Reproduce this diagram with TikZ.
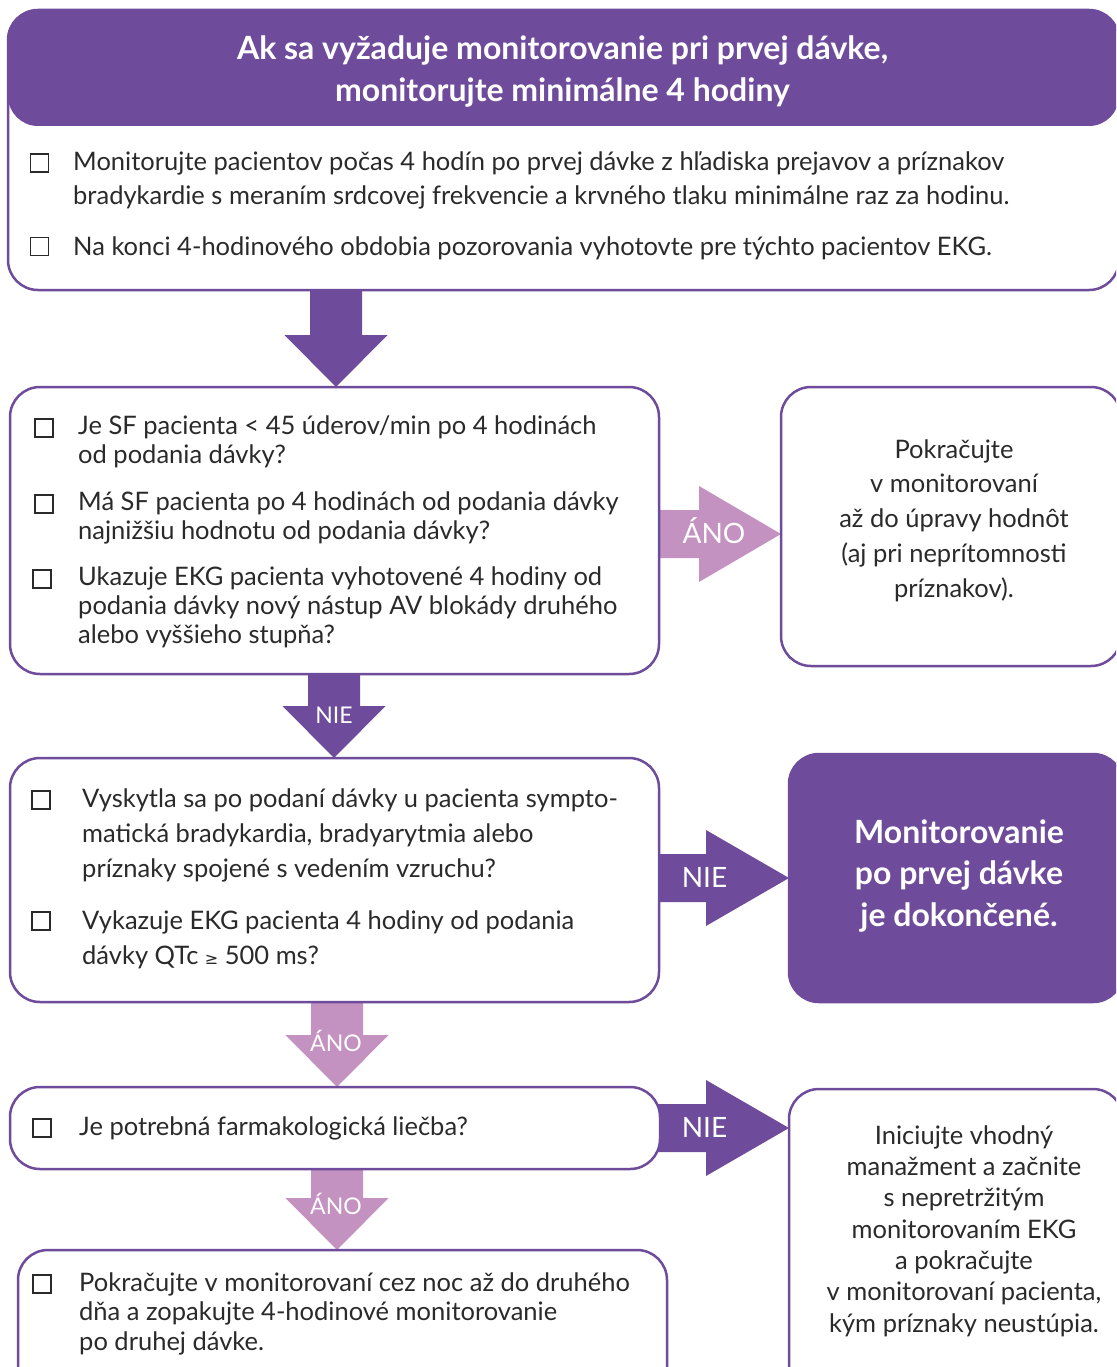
\documentclass[tikz,border=0pt]{standalone}
\usepackage{fontspec}
\setmainfont{Lato}
\newfontfamily\symfont{DejaVu Sans}
\usetikzlibrary{calc,backgrounds}
\definecolor{purp}{HTML}{6E4C9B}
\definecolor{pinkc}{HTML}{C492C1}
\definecolor{ink}{HTML}{2A2A2A}
\newcommand{\mystr}{\rule{0pt}{1em}}
% block arrow pointing down: colour, x coordinate, from node, to node
\newcommand{\blkdown}[4]{%
  \fill[#1] let \p1=(#3.south -| #2), \p2=(#4.north -| #2) in
   (\x1-26pt,\y1+8pt) -- (\x1+26pt,\y1+8pt) -- (\x1+26pt,\y2+52pt) -- (\x1+51.5pt,\y2+52pt)
   -- (\x1,\y2) -- (\x1-51.5pt,\y2+52pt) -- (\x1-26pt,\y2+52pt) -- cycle;}
% block arrow pointing right: colour, y coordinate, from node, to node, head length
\newcommand{\blkright}[5]{%
  \fill[#1] let \p1=(#3.east |- #2), \p2=(#4.west |- #2) in
   (\x1-15pt,\y1+24pt) -- (\x2-#5,\y1+24pt) -- (\x2-#5,\y1+48pt) -- (\x2,\y1)
   -- (\x2-#5,\y1-48pt) -- (\x2-#5,\y1-24pt) -- (\x1-15pt,\y1-24pt) -- cycle;}
\tikzset{
  box/.style={draw=purp, line width=2.5pt, rounded corners=30pt, fill=white, inner sep=0pt, outer sep=0pt},
  chk/.style={draw=ink, line width=1.4pt, minimum size=18pt, inner sep=0pt, outer sep=0pt},
  body/.style={anchor=north west, align=left, inner sep=0pt, text=ink, font=\fontsize{25.5}{35}\selectfont},
  ctext/.style={anchor=north, align=center, inner sep=0pt, text=ink, font=\fontsize{25.5}{35}\selectfont},
  hdr/.style={anchor=north, align=center, inner sep=0pt, text=white, font=\fontsize{32}{42}\selectfont\bfseries},
  lblbig/.style={anchor=base, inner sep=0pt, text=white, font=\fontsize{28}{30}\selectfont},
  lblsmall/.style={anchor=base, inner sep=0pt, text=white, font=\fontsize{23}{25}\selectfont},
}
\begin{document}
\begin{tikzpicture}[x=1pt,y=-1pt]
\clip (0,0) rectangle (1116,1367);

% ---------- boxes ----------
\node[box, minimum width=1111pt, minimum height=280pt,
  path picture={\fill[purp] (path picture bounding box.north west) rectangle ([yshift=-116pt]path picture bounding box.north east);}]
  (b1) at (563.5,150) {};
\node[box, minimum width=649pt, minimum height=287pt] (b2) at (334.5,530.5) {};
\node[box, minimum width=340pt, minimum height=279pt] (r1) at (951,526.5) {};
\node[box, minimum width=649pt, minimum height=244pt] (b3) at (334.5,880) {};
\node[box, fill=purp, minimum width=334pt, minimum height=248pt] (r2) at (956,878) {};
\node[box, minimum width=650pt, minimum height=82pt] (b4) at (335,1128) {};
\node[box, minimum width=334pt, minimum height=311pt] (r3) at (956,1244.5) {};
\node[box, minimum width=649pt, minimum height=150pt] (b6) at (342.5,1325) {};

% ---------- block arrows (behind the boxes) ----------
\coordinate (xa) at (336,0);
\coordinate (xb) at (334,0);
\coordinate (xc) at (337,0);
\coordinate (ya) at (0,534);
\coordinate (yb) at (0,878);
\coordinate (yc) at (0,1128);
\begin{pgfonlayer}{background}
\fill[white] (0,0) rectangle (1116,1367);
\blkdown{purp}{xa}{b1}{b2}
\blkright{pinkc}{ya}{b2}{r1}{82pt}
\blkdown{purp}{xb}{b2}{b3}
\blkright{purp}{yb}{b3}{r2}{83pt}
\blkdown{pinkc}{xc}{b3}{b4}
\blkright{purp}{yc}{b4}{r3}{83pt}
\blkdown{pinkc}{xc}{b4}{b6}
\end{pgfonlayer}

% ---------- arrow labels ----------
\node[lblbig] (la) at (714,543) {ÁNO};
\node[lblsmall] (lb) at (334,723) {NIE};
\node[lblbig] (lc) at (704.5,887) {NIE};
\node[lblsmall] (ld) at (336,1051) {ÁNO};
\node[lblbig] (le) at (704.5,1137) {NIE};
\node[lblsmall] (lf) at (336,1214) {ÁNO};

% ---------- header ----------
\node[hdr] (ht) at (562.5,27) {\mystr Ak sa vyžaduje monitorovanie pri prvej dávke,\\monitorujte minimálne 4 hodiny};

% ---------- box 1 ----------
\node[chk] (c11) at (39.5,163) {};
\node[body, font=\fontsize{25.5}{34.5}\selectfont] (t11) at (73,144.5) {\mystr Monitorujte pacientov počas 4 hodín po prvej dávke z hľadiska prejavov a príznakov\\bradykardie s meraním srdcovej frekvencie a krvného tlaku minimálne raz za hodinu.};
\node[chk] (c12) at (39.5,246.5) {};
\node[body] (t12) at (73,229.5) {\mystr Na konci 4-hodinového obdobia pozorovania vyhotovte pre týchto pacientov EKG.};

% ---------- box 2 ----------
\node[chk] (c21) at (44,428) {};
\node[body, font=\fontsize{25.5}{29}\selectfont] (t21) at (78,408.5) {\mystr Je SF pacienta < 45 úderov/min po 4 hodinách\\od podania dávky?};
\node[chk] (c22) at (44,504) {};
\node[body, font=\fontsize{25.5}{29}\selectfont] (t22) at (78,484.5) {\mystr Má SF pacienta po 4 hodinách od podania dávky\\najnižšiu hodnotu od podania dávky?};
\node[chk] (c23) at (42,579) {};
\node[body, font=\fontsize{25.5}{29}\selectfont] (t23) at (78,559.5) {\mystr Ukazuje EKG pacienta vyhotovené 4 hodiny od\\podania dávky nový nástup AV blokády druhého\\alebo vyššieho stupňa?};

% ---------- right box 1 ----------
\node[ctext, font=\fontsize{25.5}{34.75}\selectfont] (tr1) at (954,432.5) {\mystr Pokračujte\\v monitorovaní\\až do úpravy hodnôt\\(aj pri neprítomnosti\\príznakov).};

% ---------- box 3 ----------
\node[chk] (c31) at (41,800) {};
\node[body] (t31) at (82,781.5) {\mystr Vyskytla sa po podaní dávky u pacienta sympto-\\matická bradykardia, bradyarytmia alebo\\príznaky spojené s vedením vzruchu?};
\node[chk] (c32) at (41,921) {};
\node[body] (t32) at (82,903.5) {\mystr Vykazuje EKG pacienta 4 hodiny od podania\\dávky QTc {\symfont\fontsize{16}{35}\selectfont ≥} 500 ms?};

% ---------- right box 2 ----------
\node[ctext, text=white, font=\fontsize{32}{41.5}\selectfont\bfseries] (tr2) at (959,811) {\mystr Monitorovanie\\po prvej dávke\\je dokončené.};

% ---------- box 4 ----------
\node[chk] (c41) at (42,1128) {};
\node[body] (t41) at (79,1109.5) {\mystr Je potrebná farmakologická liečba?};

% ---------- right box 3 ----------
\node[ctext, font=\fontsize{25.5}{31.3}\selectfont] (tr3) at (964,1118.5) {\mystr Iniciujte vhodný\\manažment a začnite\\s nepretržitým\\monitorovaním EKG\\a pokračujte\\v monitorovaní pacienta,\\kým príznaky neustúpia.};

% ---------- box 6 ----------
\node[chk] (c61) at (42,1284) {};
\node[body, font=\fontsize{25.5}{29.5}\selectfont] (t61) at (79,1265.5) {\mystr Pokračujte v monitorovaní cez noc až do druhého\\dňa a zopakujte 4-hodinové monitorovanie\\po druhej dávke.};
\end{tikzpicture}
\end{document}
